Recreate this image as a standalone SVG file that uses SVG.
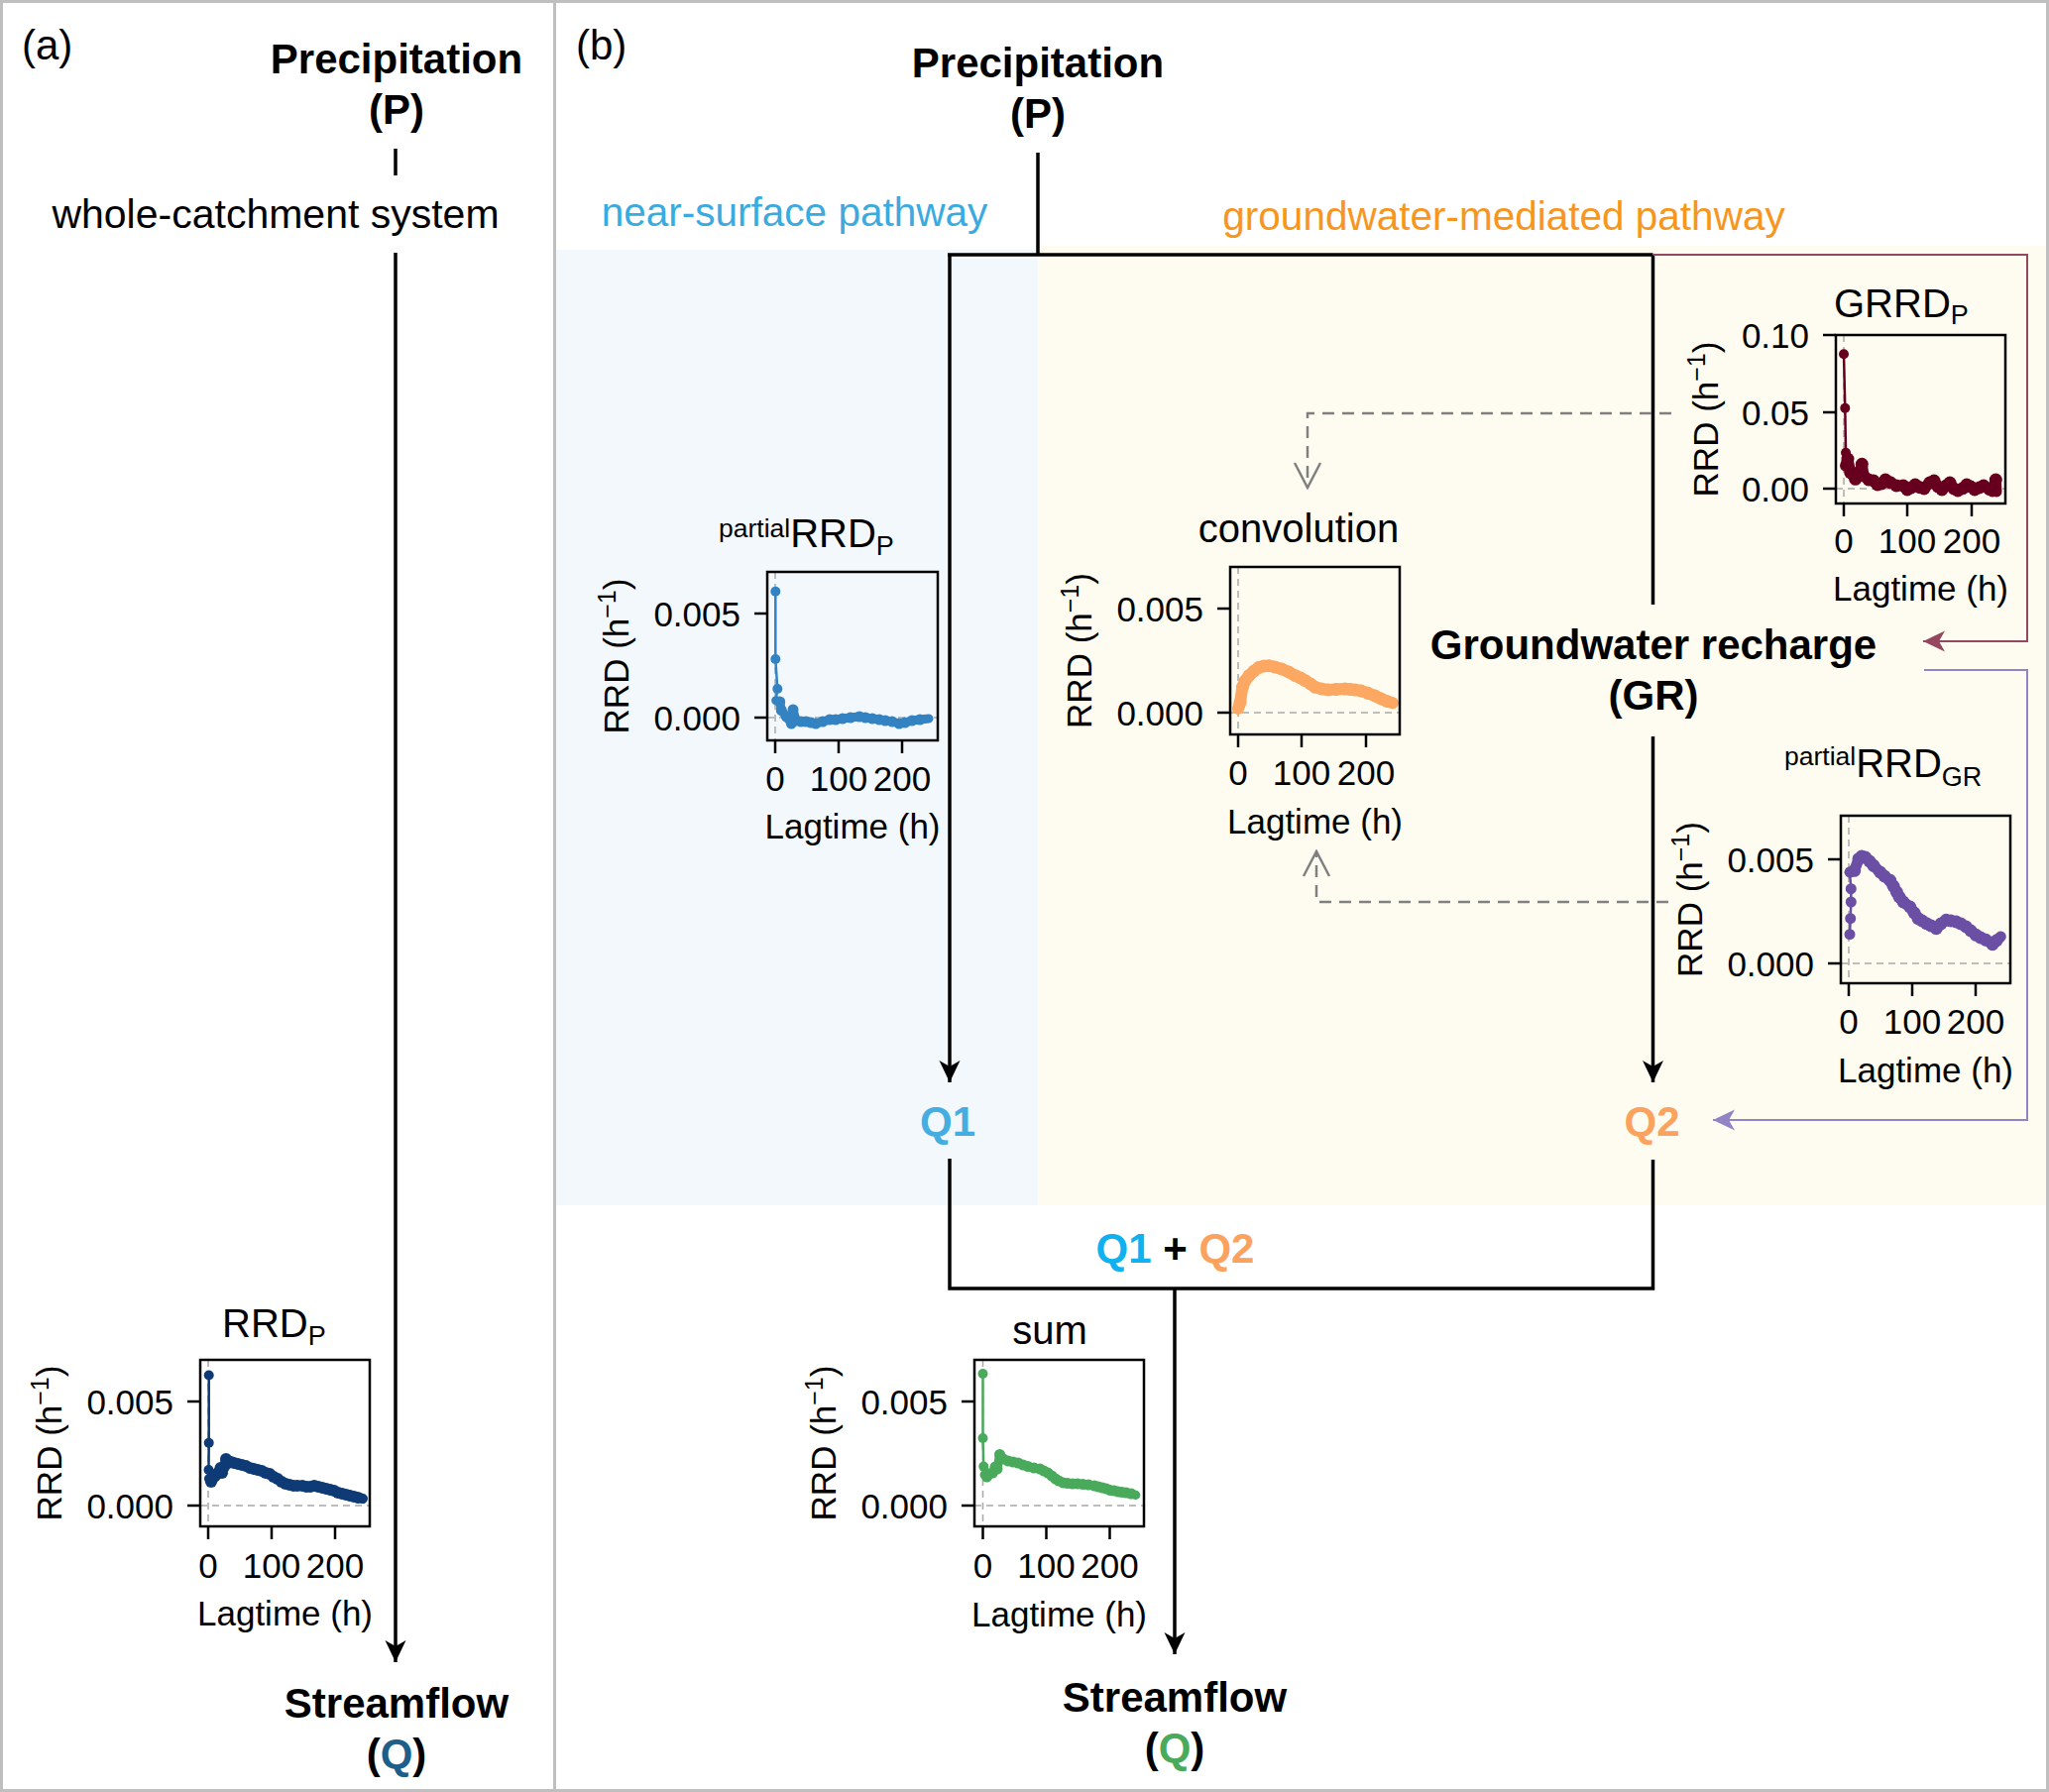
<svg xmlns="http://www.w3.org/2000/svg" width="2067" height="1808" viewBox="0 0 2067 1808">
<style>
text { font-family: 'Liberation Sans', Arial, Helvetica, sans-serif; fill: #000; }
.big { font-size: 42px; font-weight: bold; }
.mid { font-size: 41px; }
.path { font-size: 40.5px; }
.ttl { font-size: 40px; }
.lbl { font-size: 35px; }
.ytl { font-size: 35px; text-anchor: end; }
.xtl { font-size: 35px; text-anchor: middle; }
.c { text-anchor: middle; }
.box { fill: none; stroke: #000; stroke-width: 2.5; }
.tick { stroke: #000; stroke-width: 2.5; }
.zero { fill: none; stroke: #a8a8a8; stroke-width: 1.5; stroke-dasharray: 7 5; }
.conn { fill: none; stroke: #000; stroke-width: 3.5; }
.dash { fill: none; stroke: #808080; stroke-width: 2.5; stroke-dasharray: 12 8; }
.thin { fill: none; stroke-width: 2.5; }
.thick { fill: none; stroke-linecap: round; stroke-linejoin: round; }
</style>
<defs>
<marker id="arrBlack" markerUnits="userSpaceOnUse" viewBox="-24 -12 26 24" markerWidth="26" markerHeight="24" refX="0" refY="0" orient="auto">
<path d="M0,0 L-22,-10.5 L-16,0 L-22,10.5 Z" fill="#000"/>
</marker>
<marker id="arrMaroon" markerUnits="userSpaceOnUse" viewBox="-24 -12 26 24" markerWidth="26" markerHeight="24" refX="0" refY="0" orient="auto">
<path d="M0,0 L-22,-10.5 L-16,0 L-22,10.5 Z" fill="#954760"/>
</marker>
<marker id="arrPurple" markerUnits="userSpaceOnUse" viewBox="-24 -12 26 24" markerWidth="26" markerHeight="24" refX="0" refY="0" orient="auto">
<path d="M0,0 L-22,-10.5 L-16,0 L-22,10.5 Z" fill="#9283c6"/>
</marker>
<marker id="arrOpen" markerUnits="userSpaceOnUse" viewBox="-28 -16 30 32" markerWidth="30" markerHeight="32" refX="0" refY="0" orient="auto">
<path d="M-25,-13 L0,0 L-25,13" fill="none" stroke="#808080" stroke-width="2.5" stroke-dasharray="none"/>
</marker>
<marker id="dNavy" markerUnits="userSpaceOnUse" viewBox="-7 -7 14 14" markerWidth="14" markerHeight="14" refX="0" refY="0"><circle r="6" fill="#0e3b75"/></marker>
<marker id="dBlue" markerUnits="userSpaceOnUse" viewBox="-7 -7 14 14" markerWidth="14" markerHeight="14" refX="0" refY="0"><circle r="5.5" fill="#3383c2"/></marker>
<marker id="dOrange" markerUnits="userSpaceOnUse" viewBox="-8 -8 16 16" markerWidth="16" markerHeight="16" refX="0" refY="0"><circle r="6.5" fill="#fca862"/></marker>
<marker id="dRed" markerUnits="userSpaceOnUse" viewBox="-8 -8 16 16" markerWidth="16" markerHeight="16" refX="0" refY="0"><circle r="6.5" fill="#67001f"/></marker>
<marker id="dPurple" markerUnits="userSpaceOnUse" viewBox="-8 -8 16 16" markerWidth="16" markerHeight="16" refX="0" refY="0"><circle r="6.5" fill="#6b4fa5"/></marker>
<marker id="dGreen" markerUnits="userSpaceOnUse" viewBox="-7 -7 14 14" markerWidth="14" markerHeight="14" refX="0" refY="0"><circle r="5.5" fill="#4aaa5c"/></marker>
</defs>

<rect x="0" y="0" width="2067" height="1808" fill="#fff"/>
<!-- shaded pathway regions -->
<rect x="561" y="252" width="486" height="964" fill="#f3f8fd"/>
<rect x="1047" y="248" width="1017" height="968" fill="#fefcf0"/>
<!-- frame -->
<rect x="1.5" y="1.5" width="2064" height="1805" fill="none" stroke="#bfbfbf" stroke-width="3"/>
<line x1="559.5" y1="0" x2="559.5" y2="1808" stroke="#bfbfbf" stroke-width="3"/>

<text x="22" y="60" style="font-size:42px">(a)</text>
<text x="581" y="60" style="font-size:42px">(b)</text>

<!-- connectors -->
<g id="connectors">
<line class="conn" x1="399" y1="150" x2="399" y2="177"/>
<path class="conn" d="M399,255 V1677" marker-end="url(#arrBlack)"/>
<path class="conn" d="M1047,154 V257"/>
<path class="conn" d="M956,257 H1667.5"/>
<path class="conn" d="M958,257 V1092" marker-end="url(#arrBlack)"/>
<path class="conn" d="M1667.5,257 V610"/>
<path class="conn" d="M1667.5,743 V1092" marker-end="url(#arrBlack)"/>
<path class="conn" d="M958,1169 V1300 H1667.5 V1170"/>
<path class="conn" d="M1185,1300 V1669" marker-end="url(#arrBlack)"/>
<path d="M1667.5,257 H2045 V647 H1940" fill="none" stroke="#954760" stroke-width="2" marker-end="url(#arrMaroon)"/>
<path d="M1941,676 H2045 V1130 H1728" fill="none" stroke="#9283c6" stroke-width="2" marker-end="url(#arrPurple)"/>
<path class="dash" d="M1686,417 H1319 V492" marker-end="url(#arrOpen)"/>
<path class="dash" d="M1683,910 H1328 V859" marker-end="url(#arrOpen)"/>
</g>

<!-- panel (a) nodes -->
<g id="a-precipitation">
<text class="big c" x="400" y="74">Precipitation</text>
<text class="big c" x="400" y="125">(P)</text>
</g>
<g id="a-system">
<text class="mid c" x="278" y="230">whole-catchment system</text>
</g>
<g id="a-streamflow">
<text class="big c" x="400" y="1733">Streamflow</text>
<text class="big c" x="400" y="1784">(<tspan fill="#1d5f88">Q</tspan>)</text>
</g>

<g id="a-rrdp-plot">
<text class="ttl" x="224" y="1349">RRD<tspan dy="8" style="font-size:27px">P</tspan></text>
<line class="zero" x1="210" y1="1372" x2="210" y2="1540"/>
<line class="zero" x1="202" y1="1519" x2="373" y2="1519"/>
<path d="M210.7,1387.5 L210.7,1455.7 L210.5,1483 L211,1492" class="thin" stroke="#0e3b75"/>
<g fill="#0e3b75"><circle cx="210.7" cy="1387.5" r="5"/><circle cx="210.7" cy="1455.7" r="5"/><circle cx="210.5" cy="1483" r="5"/></g>
<path class="thick" stroke="#0e3b75" stroke-width="10" marker-mid="url(#dNavy)" d="M211,1492 L213,1495 L215,1491 L217,1489 L219,1487 L221,1485 L222.5,1481 L224,1486 L226,1480 L228,1472 L230,1476 L233,1475 L236,1476 L240,1477 L244,1478 L248,1479 L252,1481 L256,1482 L260,1483 L264,1484 L268,1486 L272,1487 L276,1490 L280,1492 L284,1495 L288,1497 L292,1498 L296,1499 L300,1499 L305,1499 L309,1500 L313,1500 L317,1499 L321,1500 L325,1501 L329,1502 L333,1503 L337,1504 L341,1506 L345,1507 L349,1508 L353,1509 L357,1510 L361,1511 L366,1512"/>
<rect class="box" x="202" y="1372" width="171" height="168"/>
<path class="tick" d="M189,1414 H202 M189,1519 H202 M210,1540 V1553 M274,1540 V1553 M338,1540 V1553"/>
<text class="ytl" x="175" y="1426.5">0.005</text>
<text class="ytl" x="175" y="1531.5">0.000</text>
<text class="xtl" x="210" y="1592">0</text>
<text class="xtl" x="274" y="1592">100</text>
<text class="xtl" x="338" y="1592">200</text>
<text class="lbl c" x="287.5" y="1640">Lagtime (h)</text>
<text class="lbl c" transform="translate(62,1456) rotate(-90)">RRD (h<tspan dy="-13" style="font-size:25px">−1</tspan><tspan dy="13">)</tspan></text>
</g>

<!-- panel (b) nodes -->
<g id="b-precipitation">
<text class="big c" x="1047" y="78">Precipitation</text>
<text class="big c" x="1047" y="129">(P)</text>
</g>
<g id="b-near-surface-label">
<text class="path c" x="801.5" y="228" style="fill:#3aaadf">near-surface pathway</text>
</g>
<g id="b-groundwater-label">
<text class="path c" x="1517" y="232" style="fill:#f7961f">groundwater-mediated pathway</text>
</g>
<g id="b-gr">
<text class="big c" x="1668" y="665">Groundwater recharge</text>
<text class="big c" x="1668" y="716">(GR)</text>
</g>
<g id="b-q1">
<text class="big c" x="956" y="1146" style="fill:#45ade0">Q1</text>
</g>
<g id="b-q2">
<text class="big c" x="1666.5" y="1146" style="fill:#fba35e">Q2</text>
</g>
<g id="b-sum-label">
<text class="big c" x="1185.5" y="1274"><tspan style="fill:#0fb1ee">Q1</tspan> + <tspan style="fill:#fba35e">Q2</tspan></text>
</g>
<g id="b-streamflow">
<text class="big c" x="1185" y="1727">Streamflow</text>
<text class="big c" x="1185" y="1778">(<tspan style="fill:#4aaa5c">Q</tspan>)</text>
</g>

<g id="b-partial-rrdp-plot">
<text x="725" y="542"><tspan style="font-size:26.5px">partial</tspan><tspan dy="10" style="font-size:40px">RRD</tspan><tspan dy="8" style="font-size:27px">P</tspan></text>
<line class="zero" x1="782" y1="577" x2="782" y2="747"/>
<line class="zero" x1="774" y1="724" x2="946" y2="724"/>
<path d="M782.3,596.7 L782.3,665 L784.3,695 L782.7,706.7" class="thin" stroke="#3383c2"/>
<g fill="#3383c2"><circle cx="782.3" cy="596.7" r="5"/><circle cx="782.3" cy="665" r="5"/><circle cx="784.3" cy="695" r="5"/></g>
<path class="thick" stroke="#3383c2" stroke-width="9" marker-mid="url(#dBlue)" d="M782.7,706.7 L786.7,708 L788.3,716.7 L793.3,723 L798.3,730 L800,716 L803,727 L808,728 L813,728 L818,729 L823,730 L830,728 L837,726 L843,726 L850,725 L858,724 L867,723 L873,724 L880,725 L887,726 L893,727 L900,728 L907,730 L913,729 L920,727 L928,726 L937,725"/>
<rect class="box" x="774" y="577" width="172" height="170"/>
<path class="tick" d="M761,619 H774 M761,724 H774 M782,747 V760 M846,747 V760 M910,747 V760"/>
<text class="ytl" x="747" y="631.5">0.005</text>
<text class="ytl" x="747" y="736.5">0.000</text>
<text class="xtl" x="782" y="798">0</text>
<text class="xtl" x="846" y="798">100</text>
<text class="xtl" x="910" y="798">200</text>
<text class="lbl c" x="860" y="846">Lagtime (h)</text>
<text class="lbl c" transform="translate(634,662) rotate(-90)">RRD (h<tspan dy="-13" style="font-size:25px">−1</tspan><tspan dy="13">)</tspan></text>
</g>

<g id="b-convolution-plot">
<text class="ttl c" x="1310" y="547">convolution</text>
<line class="zero" x1="1249" y1="572" x2="1249" y2="741"/>
<line class="zero" x1="1241" y1="719" x2="1412" y2="719"/>
<path class="thick" stroke="#fca862" stroke-width="12" marker-mid="url(#dOrange)" d="M1249,715 L1251,709 L1253.3,693.3 L1256,687 L1260,681.7 L1265,677 L1270,673.3 L1275,672 L1280,671.7 L1286,673 L1293,675 L1300,678 L1306.7,681.7 L1312,684 L1316.7,686.7 L1322,690 L1326.7,693.3 L1333,695 L1340,696 L1348,695.5 L1356.7,695 L1362,695.5 L1366.7,696 L1373,697 L1380,699.3 L1387,702 L1393.3,705 L1399,707.5 L1405,709.3"/>
<rect class="box" x="1241" y="572" width="171" height="169"/>
<path class="tick" d="M1228,614 H1241 M1228,719 H1241 M1249,741 V754 M1313,741 V754 M1378,741 V754"/>
<text class="ytl" x="1214" y="626.5">0.005</text>
<text class="ytl" x="1214" y="731.5">0.000</text>
<text class="xtl" x="1249" y="792">0</text>
<text class="xtl" x="1313" y="792">100</text>
<text class="xtl" x="1378" y="792">200</text>
<text class="lbl c" x="1326.5" y="841">Lagtime (h)</text>
<text class="lbl c" transform="translate(1101,656.5) rotate(-90)">RRD (h<tspan dy="-13" style="font-size:25px">−1</tspan><tspan dy="13">)</tspan></text>
</g>

<g id="b-grrdp-plot">
<text class="ttl" x="1850" y="320">GRRD<tspan dy="7" style="font-size:27px">P</tspan></text>
<line class="zero" x1="1860" y1="338" x2="1860" y2="508"/>
<line class="zero" x1="1852" y1="493" x2="2023" y2="493"/>
<path d="M1860,357.3 L1861.3,411.7 L1862,456.7 L1861.5,470" class="thin" stroke="#67001f"/>
<g fill="#67001f"><circle cx="1860" cy="357.3" r="5"/><circle cx="1861.3" cy="411.7" r="5"/><circle cx="1862" cy="456.7" r="5"/></g>
<path class="thick" stroke="#67001f" stroke-width="11" marker-mid="url(#dRed)" d="M1861.5,470 L1864,463 L1866.7,476.7 L1871.7,483.3 L1875,478 L1878.3,468.3 L1880,480 L1885,484 L1890,485 L1894,489 L1898,488 L1902,484 L1906.7,486.7 L1913,490 L1920,490 L1924,494 L1928,492 L1932,489 L1936.7,491.7 L1941,493 L1946.7,487 L1951,485 L1955,491 L1959,494 L1963.3,490 L1967,487 L1971,493 L1975,495 L1980,492.7 L1984,489 L1988,491 L1992,494 L1996.7,492 L2001,490 L2006.7,493.3 L2010,495 L2013.3,484 L2014,496"/>
<rect class="box" x="1852" y="338" width="171" height="170"/>
<path class="tick" d="M1839,338 H1852 M1839,416 H1852 M1839,493 H1852 M1860,508 V521 M1924,508 V521 M1989,508 V521"/>
<text class="ytl" x="1825" y="350.5">0.10</text>
<text class="ytl" x="1825" y="428.5">0.05</text>
<text class="ytl" x="1825" y="505.5">0.00</text>
<text class="xtl" x="1860" y="558">0</text>
<text class="xtl" x="1924" y="558">100</text>
<text class="xtl" x="1989" y="558">200</text>
<text class="lbl c" x="1937.5" y="606">Lagtime (h)</text>
<text class="lbl c" transform="translate(1733,423) rotate(-90)">RRD (h<tspan dy="-13" style="font-size:25px">−1</tspan><tspan dy="13">)</tspan></text>
</g>

<g id="b-partial-rrdgr-plot">
<text x="1800" y="772"><tspan style="font-size:26.5px">partial</tspan><tspan dy="12" style="font-size:40px">RRD</tspan><tspan dy="9" style="font-size:27px">GR</tspan></text>
<line class="zero" x1="1865" y1="823" x2="1865" y2="992"/>
<line class="zero" x1="1857" y1="972" x2="2028" y2="972"/>
<path class="thin" stroke="#6b4fa5" d="M1866,942.7 L1866.7,926.7 L1867.3,910 L1867.3,896.7 L1866,880"/>
<g fill="#6b4fa5"><circle cx="1866" cy="942.7" r="5.5"/><circle cx="1866.7" cy="926.7" r="5.5"/><circle cx="1867.3" cy="910" r="5.5"/><circle cx="1867.3" cy="896.7" r="5.5"/></g>
<path class="thick" stroke="#6b4fa5" stroke-width="11" marker-mid="url(#dPurple)" d="M1866,880 L1870.7,878.3 L1875,866.7 L1878,864 L1881.7,865 L1886,869 L1890,873.3 L1896.7,880 L1901,884 L1906.7,888.3 L1910,894 L1913.3,900 L1916,905 L1920,910 L1926.7,915 L1931,921 L1935,926.7 L1939,929 L1943.3,931.7 L1948,934 L1953.3,936.7 L1958,932 L1963.3,928.3 L1968,929 L1973.3,930 L1978,932 L1983.3,935 L1988,939 L1993.3,943.3 L1998,946 L2003.3,948.3 L2010,952.7 L2014,949 L2018.3,945"/>
<rect class="box" x="1857" y="823" width="171" height="169"/>
<path class="tick" d="M1844,867 H1857 M1844,972 H1857 M1865,992 V1005 M1929,992 V1005 M1993,992 V1005"/>
<text class="ytl" x="1830" y="879.5">0.005</text>
<text class="ytl" x="1830" y="984.5">0.000</text>
<text class="xtl" x="1865" y="1043">0</text>
<text class="xtl" x="1929" y="1043">100</text>
<text class="xtl" x="1993" y="1043">200</text>
<text class="lbl c" x="1942.5" y="1092">Lagtime (h)</text>
<text class="lbl c" transform="translate(1717,907.5) rotate(-90)">RRD (h<tspan dy="-13" style="font-size:25px">−1</tspan><tspan dy="13">)</tspan></text>
</g>

<g id="b-sum-plot">
<text class="ttl c" x="1059" y="1356">sum</text>
<line class="zero" x1="991.5" y1="1372" x2="991.5" y2="1540"/>
<line class="zero" x1="983" y1="1519" x2="1154" y2="1519"/>
<path d="M991.5,1386 L991.5,1451 L992.3,1479.6 L993,1488" class="thin" stroke="#4aaa5c"/>
<g fill="#4aaa5c"><circle cx="991.5" cy="1386" r="5"/><circle cx="991.5" cy="1451" r="5"/><circle cx="992.3" cy="1479.6" r="5"/></g>
<path class="thick" stroke="#4aaa5c" stroke-width="9" marker-mid="url(#dGreen)" d="M993,1488 L995.5,1490 L998,1487 L1001.4,1486 L1004,1480 L1006,1482 L1008.5,1467.5 L1012,1472 L1017,1474 L1022,1475 L1027,1476 L1032,1478 L1037,1479.6 L1043,1481 L1049,1482 L1053,1484 L1057,1486 L1061,1489 L1064.7,1492 L1068,1494 L1072.6,1496 L1077,1496.5 L1082,1497 L1087,1497 L1092.4,1497.6 L1098,1498 L1104,1499 L1108,1500 L1112,1501 L1116,1502 L1120,1503.6 L1124,1504 L1128,1505 L1132,1505.5 L1136,1506 L1141,1507 L1145.8,1508.4"/>
<rect class="box" x="983" y="1372" width="171" height="168"/>
<path class="tick" d="M970,1414 H983 M970,1519 H983 M991.5,1540 V1553 M1055.5,1540 V1553 M1119.5,1540 V1553"/>
<text class="ytl" x="956" y="1426.5">0.005</text>
<text class="ytl" x="956" y="1531.5">0.000</text>
<text class="xtl" x="991.5" y="1592">0</text>
<text class="xtl" x="1055.5" y="1592">100</text>
<text class="xtl" x="1119.5" y="1592">200</text>
<text class="lbl c" x="1068.5" y="1640.5">Lagtime (h)</text>
<text class="lbl c" transform="translate(843,1456) rotate(-90)">RRD (h<tspan dy="-13" style="font-size:25px">−1</tspan><tspan dy="13">)</tspan></text>
</g>
</svg>
